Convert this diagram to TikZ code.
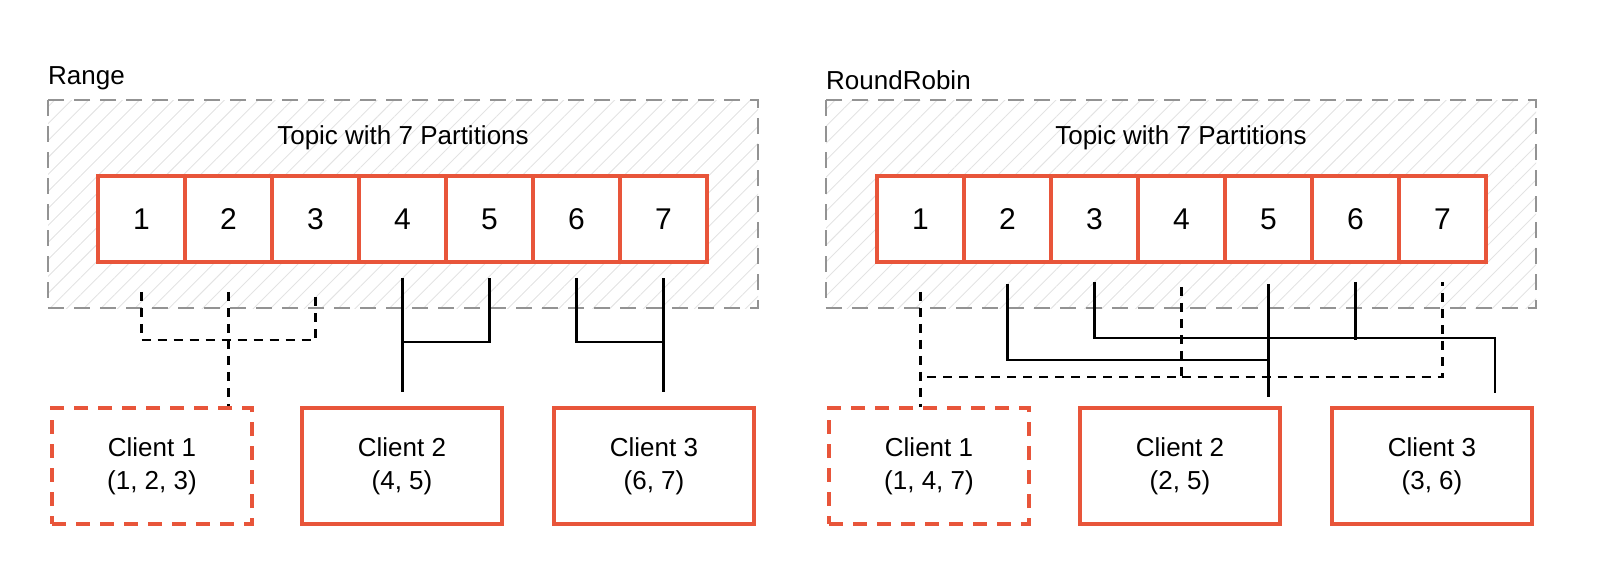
\documentclass[tikz,border=0pt]{standalone}
\usepackage{fontspec}
\setmainfont{Liberation Sans}
\usetikzlibrary{patterns.meta,calc}
\definecolor{org}{HTML}{E8553A}
\begin{document}
\begin{tikzpicture}[x=1pt,y=-1pt,
  grp/.style={draw=gray!85,dash pattern=on 16pt off 10pt,line width=2.4pt,pattern={Lines[angle=45,distance=12pt,line width=0.9pt]},pattern color=gray!22},
  part/.style={draw=org,line width=3.5pt,fill=white,minimum width=87pt,minimum height=86pt,inner sep=0pt,font=\fontsize{30}{34}\selectfont},
  cli/.style={draw=org,line width=3.8pt,fill=white,minimum width=200pt,minimum height=116pt,align=center,font=\fontsize{26}{33}\selectfont},
  dcli/.style={cli,dash pattern=on 14pt off 10pt},
  sl/.style={line width=2.4pt},
  dl/.style={line width=2.4pt,dash pattern=on 9pt off 7pt},
  lbl/.style={font=\fontsize{26}{30}\selectfont,inner sep=0pt}]
\useasboundingbox (0,0) rectangle (1600,562);
% Range
\node[lbl,anchor=south west] (rl) at (48,90) {Range};
\draw[grp] (48,100) rectangle (758,308);
\node[lbl] (rt) at (403,138) {Topic with 7 Partitions};
\foreach \i in {1,...,7}{\node[part] (a\i) at (141.5+87*\i-87,219) {\i};}
\node[dcli] (ac1) at (152,466) {Client 1\\(1, 2, 3)};
\node[cli] (ac2) at (402,466) {Client 2\\(4, 5)};
\node[cli] (ac3) at (654,466) {Client 3\\(6, 7)};
\coordinate (ja) at ($(a2.south)+(0,76)$);
\draw[dl] ($(a1.south)+(0,28)$) |- (ja) -| ($(a3.south)+(0,28)$);
\draw[dl] ($(a2.south)+(0,28)$) -- (ja) -- (ja |- ac1.north);
\coordinate (jb) at ($(a4.south)+(0,78)$);
\draw[sl] ($(a4.south)+(0,14)$) |- ($(a5.south)+(0,78)$) -- ($(a5.south)+(0,14)$);
\draw[sl] (jb) -- ($(jb |- ac2.north)+(0,-14)$);
\coordinate (jd) at ($(a7.south)+(0,78)$);
\draw[sl] ($(a6.south)+(0,14)$) |- (jd) -- ($(a7.south)+(0,14)$);
\draw[sl] (jd) -- ($(jd |- ac3.north)+(0,-14)$);
% RoundRobin
\node[lbl,anchor=south west] (bl) at (826,90) {RoundRobin};
\draw[grp] (826,100) rectangle (1536,308);
\node[lbl] (bt) at (1181,138) {Topic with 7 Partitions};
\foreach \i in {1,...,7}{\node[part] (b\i) at (920.5+87*\i-87,219) {\i};}
\node[dcli] (bc1) at (929,466) {Client 1\\(1, 4, 7)};
\node[cli] (bc2) at (1180,466) {Client 2\\(2, 5)};
\node[cli] (bc3) at (1432,466) {Client 3\\(3, 6)};
\draw[dl] ($(b1.south)+(0,28)$) -- ($(b1.south)+(0,143)$);
\draw[dl] ($(b4.south)+(0,23)$) |- ($(b1.south)+(0,113)$);
\draw[dl] ($(b4.south)+(0,113)$) -| ($(b7.south)+(0,18)$);
\draw[sl] ($(b2.south)+(0,20)$) |- ($(b5.south)+(0,96)$);
\draw[sl] ($(b5.south)+(0,20)$) -- ($(b5.south)+(0,133)$);
\coordinate (jc) at (1495,338);
\draw[sl] ($(b3.south)+(0,18)$) |- (jc) -- ($(jc |- bc3.north)+(0,-13)$);
\draw[sl] ($(b6.south)+(0,18)$) -- ($(b6.south)+(0,76)$);
\end{tikzpicture}
\end{document}
